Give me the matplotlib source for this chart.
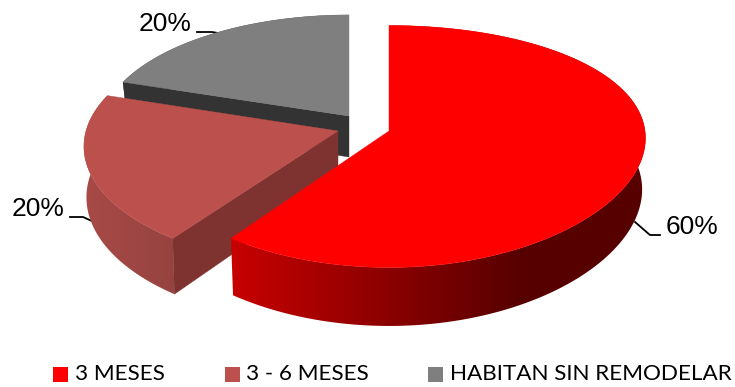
import numpy as np
import matplotlib
matplotlib.use('Agg')
import matplotlib.pyplot as plt
from matplotlib.patches import Polygon
from matplotlib.colors import to_rgb

categories = ['3 MESES', '3 - 6 MESES', 'HABITAN SIN REMODELAR']
values = [60, 20, 20]
value_labels = ['60%', '20%', '20%']

top_colors = ['#FF0000', '#BC504D', '#7F7F7F']
wall_left = ['#C80000', '#A84A47', '#333333']
wall_right = ['#570000', '#964340', '#333333']
cut_colors = ['#5A0000', '#7E3331', '#333333']

# layout of the fake 3d pie, in pixels
apex = [(389, 131), (338, 131), (349, 116)]
depth = [51, 50, 41]
rad_x = [256, 252, 247]
rad_y = [119, 119, 114]
persp_x = [0.059, 0.128, 0.128]
persp_y = 0.128
taper = [0.987, 0.99, 0.98]
grad_range = [(231, 521), (85, 175), (100, 350)]


def project(theta, i):
    # theta clockwise from the top of the pie, front of the disc looks bigger
    X = np.sin(theta)
    Y = -np.cos(theta)
    f = 1 / (1 - persp_y * Y)
    fx = 1 / (1 - persp_x[i] * Y)
    return apex[i][0] + rad_x[i] * X * fx, apex[i][1] + rad_y[i] * Y * f, f


def mix(c1, c2, t):
    c1, c2 = np.array(to_rgb(c1)), np.array(to_rgb(c2))
    return c1 + (c2 - c1) * t


fig = plt.figure(figsize=(7.35, 3.87), dpi=100)
ax = fig.add_axes([0, 0, 1, 1])

# angles come from the values
edges = np.cumsum([0] + values) / sum(values) * 2 * np.pi

for i in [2, 1, 0]:
    th = np.linspace(edges[i], edges[i + 1], 240)
    c = apex[i]
    x, y, f = project(th, i)
    h = depth[i] * f
    # lower rim is a little narrower than the top
    xb = c[0] + (x - c[0]) * taper[i]

    # outer wall, gradient clipped to the wall shape
    wall = Polygon(np.c_[np.r_[x, xb[::-1]], np.r_[y, (y + h)[::-1]]], closed=True,
                   transform=ax.transData, fc='none', ec='none')
    ax.add_patch(wall)
    g0, g1 = grad_range[i]
    grad = np.array([[mix(wall_left[i], wall_right[i], t) for t in np.linspace(0, 1, 256)]])
    im = ax.imshow(grad, extent=[g0, g1, 400, 0], aspect='auto', zorder=i * -3 + 8,
                   interpolation='bilinear')
    # anything outside the gradient range keeps the end colours
    left = ax.imshow(grad[:, :1], extent=[0, g0, 400, 0], aspect='auto', zorder=i * -3 + 8)
    right = ax.imshow(grad[:, -1:], extent=[g1, 735, 400, 0], aspect='auto', zorder=i * -3 + 8)
    for a in (im, left, right):
        a.set_clip_path(wall)

    # cut face on the side turned to the viewer
    if i > 0:
        ax.fill([c[0], x[0], xb[0], c[0]],
                [c[1], y[0], y[0] + h[0], c[1] + depth[i]],
                color=cut_colors[i], lw=0.3, zorder=i * -3 + 9)

    # top of the slice
    ax.fill(np.r_[c[0], x], np.r_[c[1], y], color=top_colors[i], lw=0.3, zorder=i * -3 + 10)

ax.set_xlim(0, 735)
ax.set_ylim(387, 0)
ax.axis('off')

# data labels and their leader lines
label_pos = [(692, 227), (38, 209), (165, 24)]
leaders = [([635, 650, 660], [222, 235, 235]),
           ([70, 83, 94], [217, 217, 222]),
           ([197, 212, 218], [32, 32, 33])]
for i in range(3):
    ax.plot(leaders[i][0], leaders[i][1], color='black', lw=1.3, zorder=1, solid_joinstyle='round')
    ax.text(label_pos[i][0], label_pos[i][1], value_labels[i], ha='center', va='center',
            fontsize=19, family='Liberation Sans', color='black')

# legend
box_x = [53, 225, 428]
text_x = [75, 246, 450]
for i in range(3):
    ax.fill([box_x[i], box_x[i] + 15, box_x[i] + 15, box_x[i]], [367, 367, 382, 382],
            color=top_colors[i], lw=0)
    ax.text(text_x[i], 374.5, categories[i], ha='left', va='center',
            fontsize=16.2, family='Lato', color='black')

fig.savefig('out.png', dpi=100)
